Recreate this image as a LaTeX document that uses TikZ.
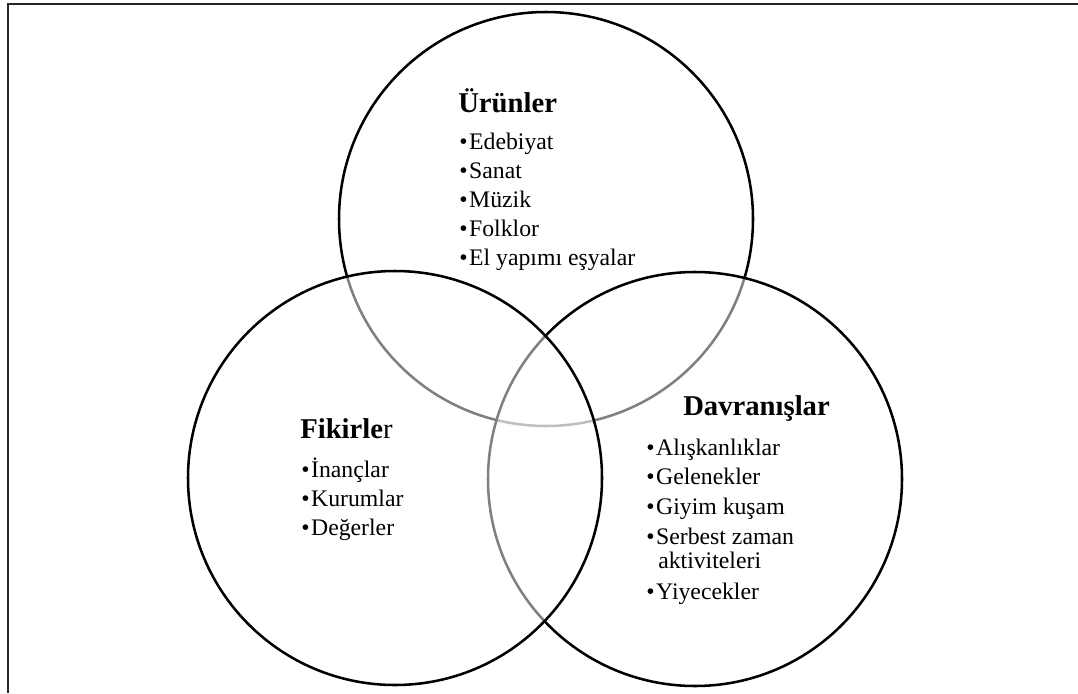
\documentclass[tikz,border=0pt]{standalone}
\usepackage{fontspec}
\setmainfont{Liberation Serif}
\usepackage{tikz}

\begin{document}
\begin{tikzpicture}[x=0.75pt, y=-0.75pt,
  set/.style={circle, draw, line width=1.9pt, fill=white, fill opacity=0.5, minimum size=310.5pt, inner sep=0pt},
  title/.style={anchor=base west, inner sep=0pt, font=\fontsize{21.5}{26}\selectfont\bfseries},
  item/.style={anchor=base west, inner sep=0pt, font=\fontsize{17.8}{21}\selectfont}]
\useasboundingbox (0,0) rectangle (1078,693);
%%%%% Frame %%%%%
\draw[line width=1.7pt, color=black!85] (8,693) -- (8,4) -- (1078,4);
%%%%% Sets %%%%%
\node[set] (urunler) at (546,219) {};
\node[set] (davranislar) at (695,479) {};
\node[set] (fikirler) at (395,478) {};
%%%%% Urunler %%%%%
\node[title] (urunlerT) at (458,112) {Ürünler};
\foreach \t [count=\i] in {Edebiyat, Sanat, Müzik, Folklor, El yapımı eşyalar}{
\node[item] (u\i) at (459,{149+29*(\i-1)}) {•\hspace{1.2pt}\t};
}
%%%%% Fikirler %%%%%
\node[title] (fikirlerT) at (300,438) {Fikirle\textmd{r}};
\foreach \t [count=\i] in {İnançlar, Kurumlar, Değerler}{
\node[item] (f\i) at (301,{477+29*(\i-1)}) {•\hspace{1.2pt}\t};
}
%%%%% Davranislar %%%%%
\node[title] (davranislarT) at (683,415) {Davranışlar};
\foreach \t/\y [count=\i] in {Alışkanlıklar/455, Gelenekler/484, Giyim kuşam/514, Serbest zaman/544, Yiyecekler/599}{
\node[item] (d\i) at (646,\y) {•\hspace{1.2pt}\t};
}
\node[item] (d4b) at (658,568) {aktiviteleri};
\end{tikzpicture}
\end{document}
